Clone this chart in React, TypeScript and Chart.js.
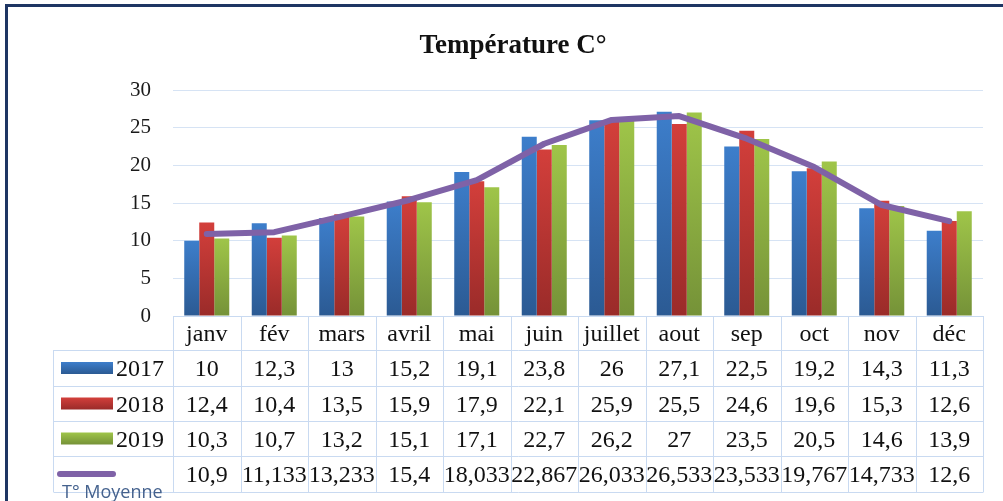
import React, { useEffect, useRef } from "react";
import { Chart, registerables } from "chart.js";

Chart.register(...registerables);

const title = "Température C°";
const categories = ["janv", "fév", "mars", "avril", "mai", "juin", "juillet", "aout", "sep", "oct", "nov", "déc"];
const series2017 = [10, 12.3, 13, 15.2, 19.1, 23.8, 26, 27.1, 22.5, 19.2, 14.3, 11.3];
const series2018 = [12.4, 10.4, 13.5, 15.9, 17.9, 22.1, 25.9, 25.5, 24.6, 19.6, 15.3, 12.6];
const series2019 = [10.3, 10.7, 13.2, 15.1, 17.1, 22.7, 26.2, 27, 23.5, 20.5, 14.6, 13.9];
const moyenne = [10.9, 11.133, 13.233, 15.4, 18.033, 22.867, 26.033, 26.533, 23.533, 19.767, 14.733, 12.6];
const seriesLabels = ["2017", "2018", "2019", "T° Moyenne"];
const yMin = 0;
const yMax = 30;
const yStep = 5;

const SERIF = '"Liberation Serif", "Times New Roman", serif';
const BLUE = ["#3d7ecb", "#2b5a93"];
const RED = ["#d33f3b", "#9a2b29"];
const GREEN = ["#9fc549", "#759238"];
const PURPLE = "#7f62a7";
const GRID = "#d6e3f4";
const TABLE = "#c9daf1";

const fmt = (v: number) => String(v).replace(".", ",");

const barGradient = (cols: string[]) => (ctx: any) => {
  const chart = ctx.chart;
  const area = chart.chartArea;
  if (!area || ctx.type !== "data") return cols[0];
  const v = ctx.parsed ? ctx.parsed.y : ctx.raw;
  const yTop = chart.scales.y.getPixelForValue(v);
  const g = chart.ctx.createLinearGradient(0, yTop, 0, area.bottom);
  g.addColorStop(0, cols[0]);
  g.addColorStop(1, cols[1]);
  return g;
};

const framePlugin = {
  id: "frame",
  beforeDraw(chart: any) {
    const c = chart.ctx;
    c.save();
    c.fillStyle = "#ffffff";
    c.fillRect(0, 0, chart.width, chart.height);
    c.strokeStyle = "#1e3563";
    c.lineWidth = 3;
    c.strokeRect(6.5, 5.5, chart.width + 20, chart.height + 20);
    c.restore();
  },
  afterDraw(chart: any) {
    const c = chart.ctx;
    const a = chart.chartArea;
    const n = categories.length;
    const left = a.left;
    const right = a.right;
    const colW = (right - left) / n;
    const top = a.bottom;
    const rows = [top, top + 34, top + 70, top + 105, top + 140, top + 176];
    const legendLeft = 53;
    const px = (v: number) => Math.round(v) + 0.5;

    c.save();
    // title
    c.fillStyle = "#111";
    c.font = `bold 27px ${SERIF}`;
    c.textAlign = "center";
    c.textBaseline = "alphabetic";
    c.fillText(title, 513, 53);

    // table lines
    c.strokeStyle = TABLE;
    c.lineWidth = 1;
    c.beginPath();
    for (let i = 0; i <= n; i++) {
      const x = px(left + i * colW);
      c.moveTo(x, rows[0]);
      c.lineTo(x, rows[5]);
    }
    c.moveTo(px(left), px(rows[0]));
    c.lineTo(px(right), px(rows[0]));
    for (let r = 1; r < rows.length; r++) {
      c.moveTo(px(legendLeft), px(rows[r]));
      c.lineTo(px(right), px(rows[r]));
    }
    c.moveTo(px(legendLeft), rows[1]);
    c.lineTo(px(legendLeft), rows[5]);
    c.stroke();

    // category labels
    c.fillStyle = "#111";
    c.font = `24px ${SERIF}`;
    c.textAlign = "center";
    const xs = chart.scales.x;
    categories.forEach((lab, i) => {
      const x = xs.getPixelForValue(i);
      c.fillText(lab, x, (rows[0] + rows[1]) / 2 + 8);
    });

    // value rows
    const allSeries = [series2017, series2018, series2019, moyenne];
    const keyCols = [BLUE, RED, GREEN];
    allSeries.forEach((s, r) => {
      const cy = (rows[r + 1] + rows[r + 2]) / 2;
      c.fillStyle = "#111";
      c.font = `24px ${SERIF}`;
      c.textAlign = "center";
      s.forEach((v, i) => {
        c.fillText(fmt(v), xs.getPixelForValue(i), cy + 8);
      });
      if (r < 3) {
        const g = c.createLinearGradient(0, cy - 6, 0, cy + 6);
        g.addColorStop(0, keyCols[r][0]);
        g.addColorStop(1, keyCols[r][1]);
        c.fillStyle = g;
        c.fillRect(61, cy - 6, 52, 12);
        c.fillStyle = "#111";
        c.textAlign = "left";
        c.fillText(seriesLabels[r], 116, cy + 8);
      } else {
        c.strokeStyle = PURPLE;
        c.lineWidth = 6;
        c.lineCap = "round";
        c.beginPath();
        c.moveTo(60, cy);
        c.lineTo(113, cy);
        c.stroke();
        c.fillStyle = "#45628e";
        c.font = '18px "Open Sans", "Liberation Sans", sans-serif';
        c.textAlign = "left";
        c.fillText(seriesLabels[3], 62, 498);
      }
    });
    c.restore();
  },
};

export default function App() {
  const ref = useRef<HTMLCanvasElement | null>(null);

  useEffect(() => {
    if (!ref.current) return;
    const chart = new Chart(ref.current, {
      type: "bar",
      data: {
        labels: categories,
        datasets: [
          {
            type: "line",
            label: seriesLabels[3],
            data: moyenne,
            borderColor: PURPLE,
            backgroundColor: PURPLE,
            borderWidth: 6,
            pointRadius: 0,
            tension: 0,
            borderCapStyle: "round",
            borderJoinStyle: "round",
            order: 0,
          } as any,
          {
            label: seriesLabels[0],
            data: series2017,
            backgroundColor: barGradient(BLUE),
            barPercentage: 1,
            categoryPercentage: 0.667,
            order: 1,
          },
          {
            label: seriesLabels[1],
            data: series2018,
            backgroundColor: barGradient(RED),
            barPercentage: 1,
            categoryPercentage: 0.667,
            order: 1,
          },
          {
            label: seriesLabels[2],
            data: series2019,
            backgroundColor: barGradient(GREEN),
            barPercentage: 1,
            categoryPercentage: 0.667,
            order: 1,
          },
        ],
      },
      options: {
        responsive: false,
        maintainAspectRatio: false,
        animation: false,
        devicePixelRatio: 1,
        layout: { padding: { top: 90, right: 20, left: 0, bottom: 0 } },
        plugins: {
          legend: { display: false },
          tooltip: { enabled: false },
          title: { display: false },
        },
        scales: {
          x: {
            grid: { display: false },
            border: { display: false },
            ticks: { display: false },
            afterFit: (s: any) => {
              s.height = 185;
            },
          },
          y: {
            min: yMin,
            max: yMax,
            ticks: {
              stepSize: yStep,
              padding: 22,
              color: "#1a1a1a",
              font: { family: SERIF, size: 21 },
            },
            grid: { color: GRID, drawTicks: false, lineWidth: 1 },
            border: { display: false },
            afterFit: (s: any) => {
              s.width = 173;
            },
          },
        },
      },
      plugins: [framePlugin],
    });
    return () => chart.destroy();
  }, []);

  return (
    <div style={{ position: "fixed", left: 0, top: 0, width: 1003, height: 501, background: "#fff" }}>
      <canvas ref={ref} width={1003} height={501} style={{ display: "block" }} />
    </div>
  );
}
